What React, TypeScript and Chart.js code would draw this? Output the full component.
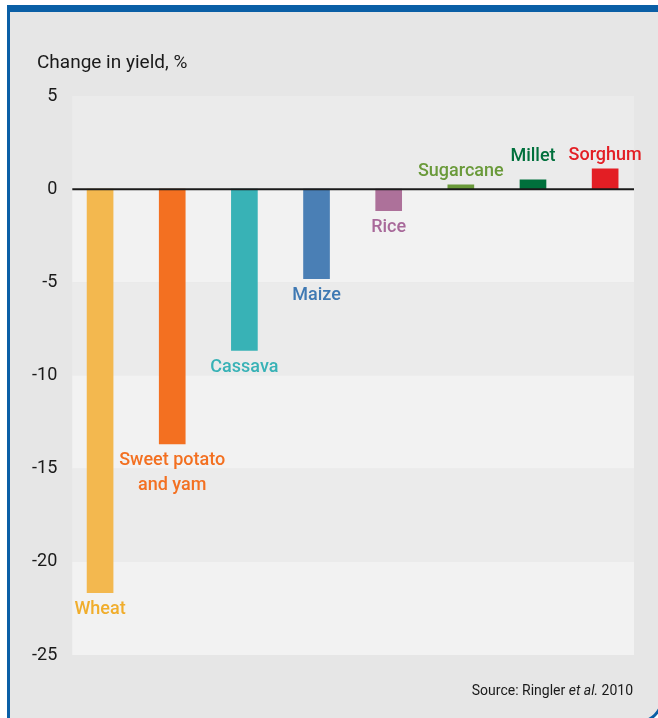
import React, { useEffect, useRef } from "react";
import { Chart, registerables } from "chart.js";

Chart.register(...registerables);

const categories = ["Wheat", "Sweet potato and yam", "Cassava", "Maize", "Rice", "Sugarcane", "Millet", "Sorghum"];
const labelLines = [["Wheat"], ["Sweet potato", "and yam"], ["Cassava"], ["Maize"], ["Rice"], ["Sugarcane"], ["Millet"], ["Sorghum"]];
const yieldChange = [-21.65, -13.67, -8.66, -4.8, -1.15, 0.23, 0.5, 1.09];
const yTicks = [5, 0, -5, -10, -15, -20, -25];
const barColors = ["#f3b84f", "#f37021", "#38b2b6", "#4a7fb5", "#ad719a", "#6a9a3a", "#00703c", "#e31e24"];
const labelColors = ["#f0ad2c", "#f37021", "#38b2b6", "#3f79b3", "#a8699a", "#6a9a3a", "#00703c", "#e31e24"];

const FONT = "Roboto, 'Noto Sans', sans-serif";

const framePlugin = {
  id: "frame",
  beforeDraw(chart: any) {
    const { ctx, width, height, chartArea, scales } = chart;
    const y = scales.y;
    ctx.save();
    ctx.fillStyle = "#ffffff";
    ctx.fillRect(0, 0, width, height);
    // panel
    ctx.beginPath();
    const r = 24;
    const px = 8.5, py = 8, pr = 662, pb = 722;
    ctx.moveTo(px, py);
    ctx.lineTo(pr, py);
    ctx.lineTo(pr, pb - r);
    ctx.arcTo(pr, pb, pr - r, pb, r);
    ctx.lineTo(px, pb);
    ctx.closePath();
    ctx.fillStyle = "#e6e6e6";
    ctx.fill();
    ctx.lineWidth = 3;
    ctx.strokeStyle = "#0a5fa6";
    ctx.stroke();
    ctx.fillStyle = "#0a5fa6";
    ctx.fillRect(7, 5, width - 7, 7);
    // bands
    for (let i = 0; i < yTicks.length - 1; i++) {
      const t = y.getPixelForValue(yTicks[i]);
      const b = y.getPixelForValue(yTicks[i + 1]);
      ctx.fillStyle = i % 2 === 0 ? "#ebebeb" : "#f2f2f2";
      ctx.fillRect(chartArea.left, t, chartArea.right - chartArea.left, b - t);
    }
    // title
    ctx.fillStyle = "#1a1a1a";
    ctx.font = `19px ${FONT}`;
    ctx.textBaseline = "alphabetic";
    ctx.textAlign = "left";
    ctx.fillText("Change in yield, %", 37, 68);
    // source
    const parts: [string, string][] = [["Source: Ringler ", "normal"], ["et al.", "italic"], [" 2010", "normal"]];
    let total = 0;
    for (const [s, st] of parts) {
      ctx.font = `${st} 14px ${FONT}`;
      total += ctx.measureText(s).width;
    }
    let x = 633 - total;
    for (const [s, st] of parts) {
      ctx.font = `${st} 14px ${FONT}`;
      ctx.fillText(s, x, 695);
      x += ctx.measureText(s).width;
    }
    ctx.restore();
  },
  afterDatasetsDraw(chart: any) {
    const { ctx, chartArea, scales } = chart;
    const y0 = scales.y.getPixelForValue(0);
    ctx.save();
    ctx.strokeStyle = "#1a1a1a";
    ctx.lineWidth = 2;
    ctx.beginPath();
    ctx.moveTo(chartArea.left, y0);
    ctx.lineTo(chartArea.right, y0);
    ctx.stroke();
    const meta = chart.getDatasetMeta(0);
    ctx.font = `500 18px ${FONT}`;
    ctx.textAlign = "center";
    ctx.textBaseline = "middle";
    meta.data.forEach((bar: any, i: number) => {
      const v = yieldChange[i];
      const lines = labelLines[i];
      ctx.fillStyle = labelColors[i];
      if (v < 0) {
        lines.forEach((ln, k) => ctx.fillText(ln, bar.x, bar.y + 17 + k * 25));
      } else {
        const lift = categories[i] === "Millet" ? 23 : 13;
        ctx.fillText(lines[0], bar.x, bar.y - lift);
      }
    });
    ctx.restore();
  },
};

export default function App() {
  const ref = useRef<HTMLCanvasElement | null>(null);
  useEffect(() => {
    document.body.style.margin = "0";
    const chart = new Chart(ref.current as HTMLCanvasElement, {
      type: "bar",
      data: {
        datasets: [
          {
            data: categories.map((c, i) => ({ x: i, y: yieldChange[i] })),
            backgroundColor: barColors,
            barThickness: 26,
            borderWidth: 0,
          },
        ],
      },
      options: {
        animation: false,
        responsive: false,
        devicePixelRatio: 1,
        layout: { padding: { left: 0, top: 96, right: 24, bottom: 63 } },
        plugins: { legend: { display: false }, tooltip: { enabled: false } },
        scales: {
          x: { type: "linear", min: -0.385, max: 7.4, offset: false, display: false },
          y: {
            min: -25,
            max: 5,
            afterFit: (s: any) => {
              s.width = 72.3;
            },
            afterBuildTicks: (s: any) => {
              s.ticks = yTicks.map((v) => ({ value: v }));
            },
            grid: { display: false },
            border: { display: false },
            ticks: {
              padding: 7,
              color: "#1a1a1a",
              font: { family: FONT, size: 18 },
            },
          },
        },
      },
      plugins: [framePlugin],
    });
    return () => chart.destroy();
  }, []);
  return (
    <div style={{ width: 658, height: 718 }}>
      <canvas ref={ref} width={658} height={718} />
    </div>
  );
}
